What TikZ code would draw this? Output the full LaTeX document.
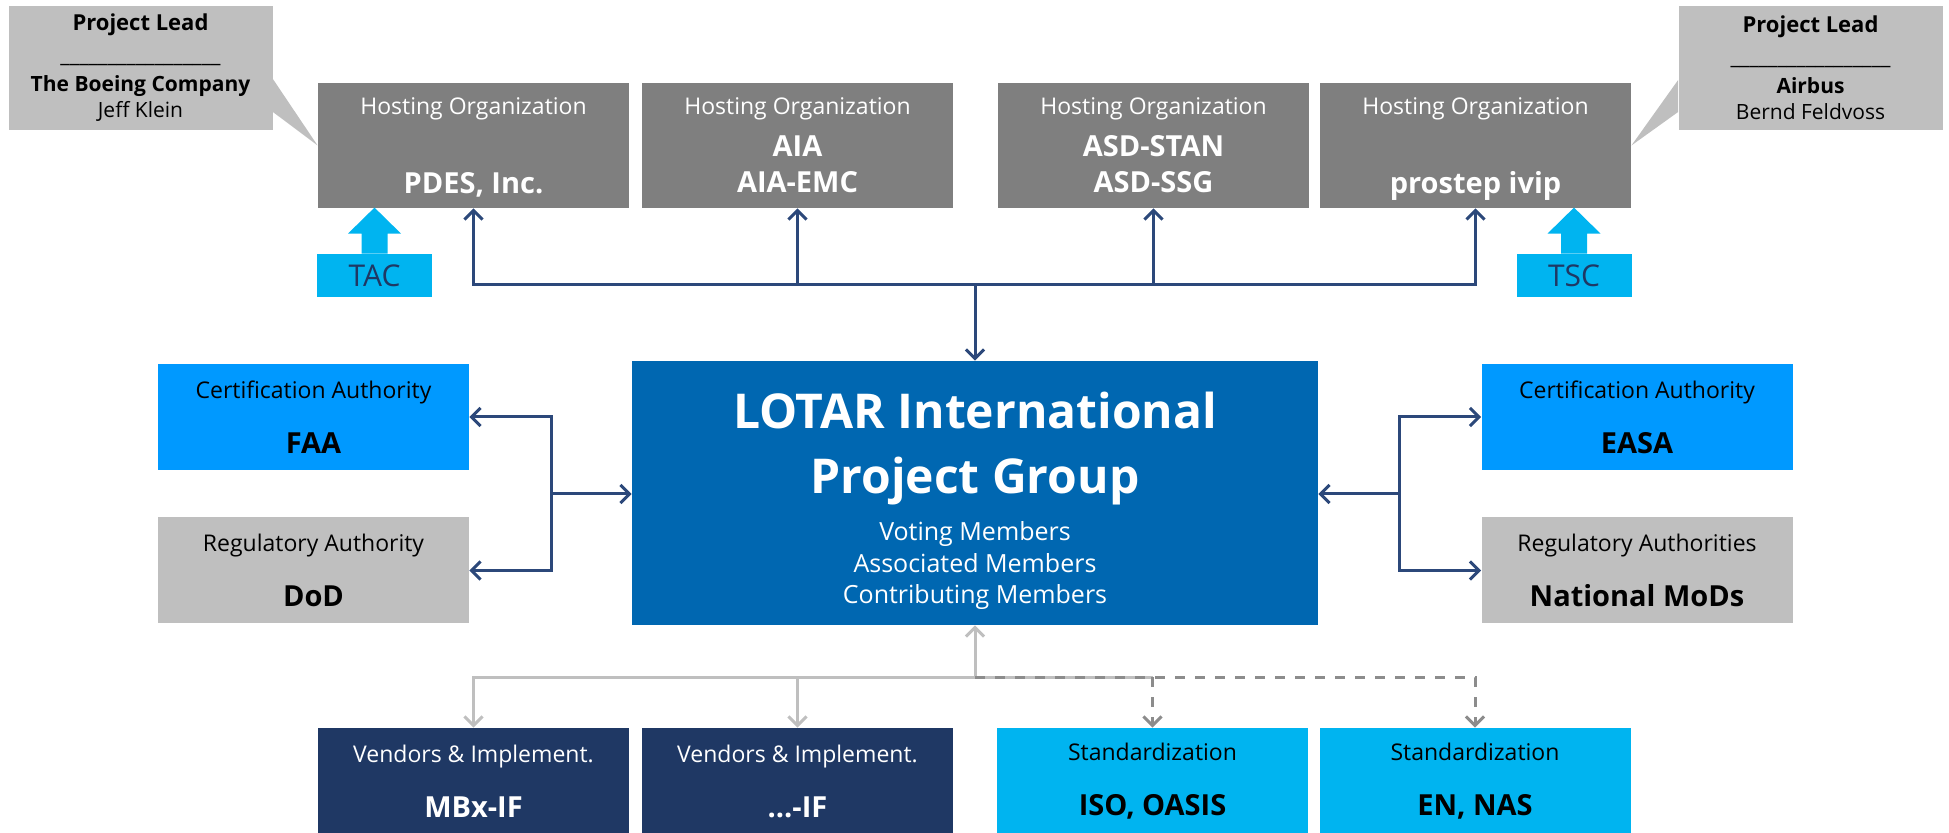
\documentclass[tikz,border=0pt]{standalone}
\usepackage{fontspec}
\setmainfont{Open Sans}
\usetikzlibrary{arrows.meta}
\tikzset{>={Straight Barb[length=4.5pt,width=9pt]}}

\definecolor{hostgray}{RGB}{127,127,127}
\definecolor{leadgray}{RGB}{191,191,191}
\definecolor{cyanbox}{RGB}{0,180,240}
\definecolor{authblue}{RGB}{0,153,255}
\definecolor{lotarblue}{RGB}{0,103,177}
\definecolor{vendnavy}{RGB}{31,56,100}
\definecolor{connnavy}{RGB}{44,72,122}
\definecolor{feedgray}{RGB}{191,191,191}
\definecolor{dashgray}{RGB}{140,140,140}

\newcommand\subtxt{\fontsize{11.5}{14}\selectfont}
\newcommand\nametxt{\fontsize{14.5}{17}\selectfont\bfseries}
\newcommand\leadtxt{\fontsize{10.5}{13}\selectfont}

\begin{document}
\begin{tikzpicture}[x=0.5pt,y=-0.5pt,
  box/.style={minimum width=155.5pt,inner sep=0pt,align=center,font=\subtxt},
  hostbox/.style={box,fill=hostgray,text=white,minimum height=62.5pt},
  authbox/.style={box,minimum height=53pt},
  leadbox/.style={fill=leadgray,minimum width=132pt,minimum height=62pt,inner sep=0pt,align=center,font=\leadtxt},
  tagbox/.style={fill=cyanbox,text=vendnavy,minimum width=57.5pt,minimum height=21.5pt,inner sep=0pt,font=\fontsize{15}{18}\selectfont},
  conn/.style={draw=connnavy,line width=1.5pt},
  feed/.style={draw=feedgray,line width=1.5pt},
  feeddash/.style={draw=dashgray,line width=1.5pt,dash pattern=on 5pt off 5pt}]
  \useasboundingbox (0,0) rectangle (1949,833);

  % hosting organizations
  \node[hostbox] (pdes) at (473.5,145.5) {Hosting Organization\\[25.5pt]{\nametxt\smash{PDES, Inc.}}};
  \node[hostbox] (aia) at (797.5,145.5) {Hosting Organization\\[7pt]{\nametxt AIA}\\[4pt]{\nametxt AIA-EMC}};
  \node[hostbox] (asd) at (1153.5,145.5) {Hosting Organization\\[7pt]{\nametxt ASD-STAN}\\[4pt]{\nametxt ASD-SSG}};
  \node[hostbox] (prostep) at (1475.5,145.5) {Hosting Organization\\[25.5pt]{\nametxt\smash{prostep ivip}}};

  % project leads
  \node[leadbox] (leadL) at (140.5,68) {{\fontsize{11}{13}\selectfont\bfseries Project Lead}\\[3pt]\_\_\_\_\_\_\_\_\_\_\_\_\_\_\_\_\_\\[1.5pt]{\bfseries The Boeing Company}\\Jeff Klein};
  \node[leadbox] (leadR) at (1810.5,68) {{\fontsize{11}{13}\selectfont\bfseries Project Lead}\\[3pt]\_\_\_\_\_\_\_\_\_\_\_\_\_\_\_\_\_\\[1.5pt]{\bfseries Airbus}\\Bernd Feldvoss};
  \fill[leadgray] ([yshift=-5.5pt]leadL.east) -- (pdes.west) -- ([yshift=-22pt]leadL.east) -- cycle;
  \fill[leadgray] ([yshift=-6pt]leadR.west) -- (prostep.east) -- ([yshift=-22pt]leadR.west) -- cycle;

  % committees
  \node[tagbox] (tac) at (374.5,275.5) {TAC};
  \node[tagbox] (tsc) at (1574,275.5) {TSC};
  \foreach \n in {tac,tsc}
    \fill[cyanbox] (\n.north) ++(-13,0) -- ++(0,-20) -- ++(-13.5,0) -- ++(26.5,-26) -- ++(26.5,26) -- ++(-13.5,0) -- ++(0,20) -- cycle;

  % project group
  \node[fill=lotarblue,minimum width=343pt,minimum height=132pt,inner sep=0pt] (lotar) at (975,493) {};
  \node[text=white,align=center,inner sep=0pt,font=\fontsize{24}{32.5}\selectfont\bfseries] (lotarname) at (975,449) {LOTAR International\\Project Group};
  \node[text=white,align=center,inner sep=0pt,font=\fontsize{12.5}{15.75}\selectfont] (lotarmembers) at (975,566) {Voting Members\\Associated Members\\Contributing Members};

  % authorities
  \node[authbox,fill=authblue] (faa) at (313.5,417) {Certification Authority\\[13.5pt]{\nametxt FAA}};
  \node[authbox,fill=leadgray] (dod) at (313.5,570.5) {Regulatory Authority\\[13.5pt]{\nametxt DoD}};
  \node[authbox,fill=authblue] (easa) at (1637,417) {Certification Authority\\[13.5pt]{\nametxt EASA}};
  \node[authbox,fill=leadgray] (mods) at (1637,570.5) {Regulatory Authorities\\[13.5pt]{\nametxt National MoDs}};

  % vendors and standards
  \node[authbox,fill=vendnavy,text=white] (vendA) at (473.5,781) {Vendors \& Implement.\\[13.5pt]{\nametxt MBx-IF}};
  \node[authbox,fill=vendnavy,text=white] (vendB) at (797.5,781) {Vendors \& Implement.\\[13.5pt]{\nametxt ...-IF}};
  \node[authbox,fill=cyanbox] (stdA) at (1152.5,781) {Standardization\\[13.5pt]{\nametxt ISO, OASIS}};
  \node[authbox,fill=cyanbox] (stdB) at (1475,781) {Standardization\\[13.5pt]{\nametxt EN, NAS}};

  % links up
  \coordinate (hub) at (975,285);
  \draw[conn,<->] (pdes.south) |- (hub) -| (prostep.south);
  \foreach \n in {aia,asd}
    \draw[conn,->] (\n.south |- hub) -- (\n.south);
  \draw[conn,->] (hub) -- (lotar.north);

  % links left and right
  \coordinate (lhub) at (551,494);
  \draw[conn,<->] (faa.east) -| (lhub) |- (dod.east);
  \draw[conn,->] (lhub) -- (lotar.west |- lhub);
  \coordinate (rhub) at (1399,494);
  \draw[conn,<->] (easa.west) -| (rhub) |- (mods.west);
  \draw[conn,->] (rhub) -- (lotar.east |- rhub);

  % links down
  \coordinate (bhub) at (975,677);
  \draw[feed,->] (bhub) -- (lotar.south);
  \draw[feed,->] (stdA.north |- bhub) -| (vendA.north);
  \draw[feed,->] (vendB.north |- bhub) -- (vendB.north);
  \draw[feeddash,->] (bhub) -| (stdB.north);
  \draw[feeddash,->] (stdA.north |- bhub) -- (stdA.north);
\end{tikzpicture}
\end{document}
